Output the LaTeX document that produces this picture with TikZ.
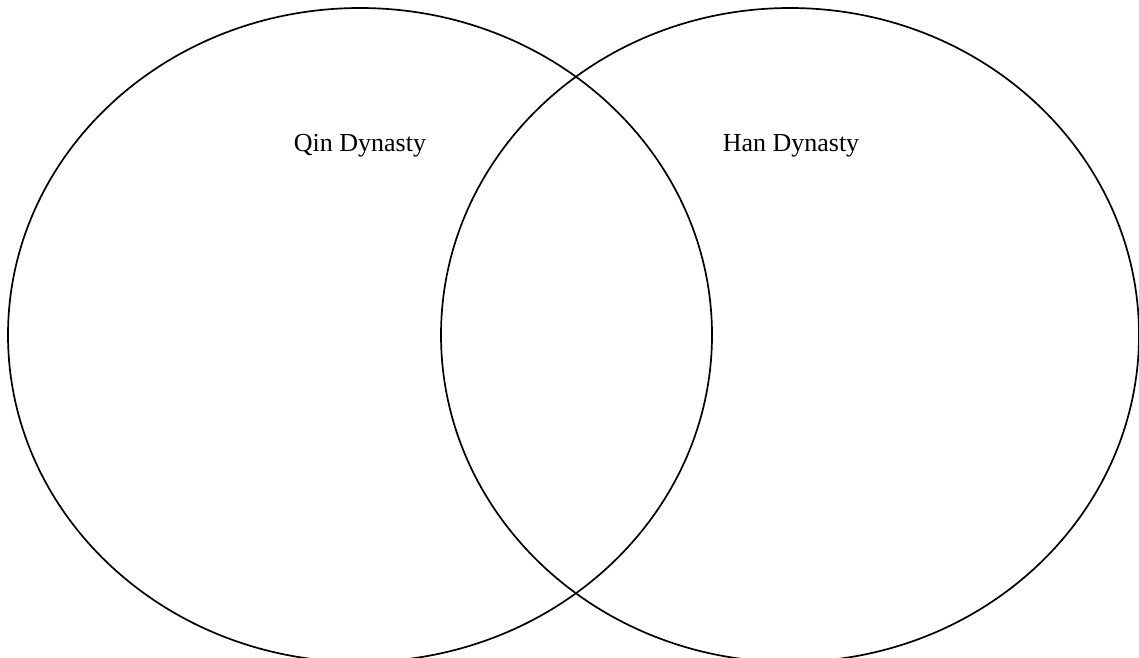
\documentclass[tikz,border=0pt]{standalone}
\usepackage{fontspec}
\setmainfont{Liberation Serif}
\begin{document}
\begin{tikzpicture}[x=1pt,y=-1pt,
  venn/.style={draw=black,line width=1.7pt},
  lbl/.style={font=\fontsize{26}{30}\selectfont,inner sep=0pt}]
\useasboundingbox (0,0) rectangle (1139,657);
\begin{scope}
\clip (0,0) rectangle (1139,657);
\draw[venn] (360,335) ellipse [x radius=352, y radius=327];
\draw[venn] (790,335) ellipse [x radius=349, y radius=327];
\end{scope}
\node[lbl] (qin) at (360,146) {Qin Dynasty};
\node[lbl] (han) at (791,146) {Han Dynasty};
\end{tikzpicture}
\end{document}
